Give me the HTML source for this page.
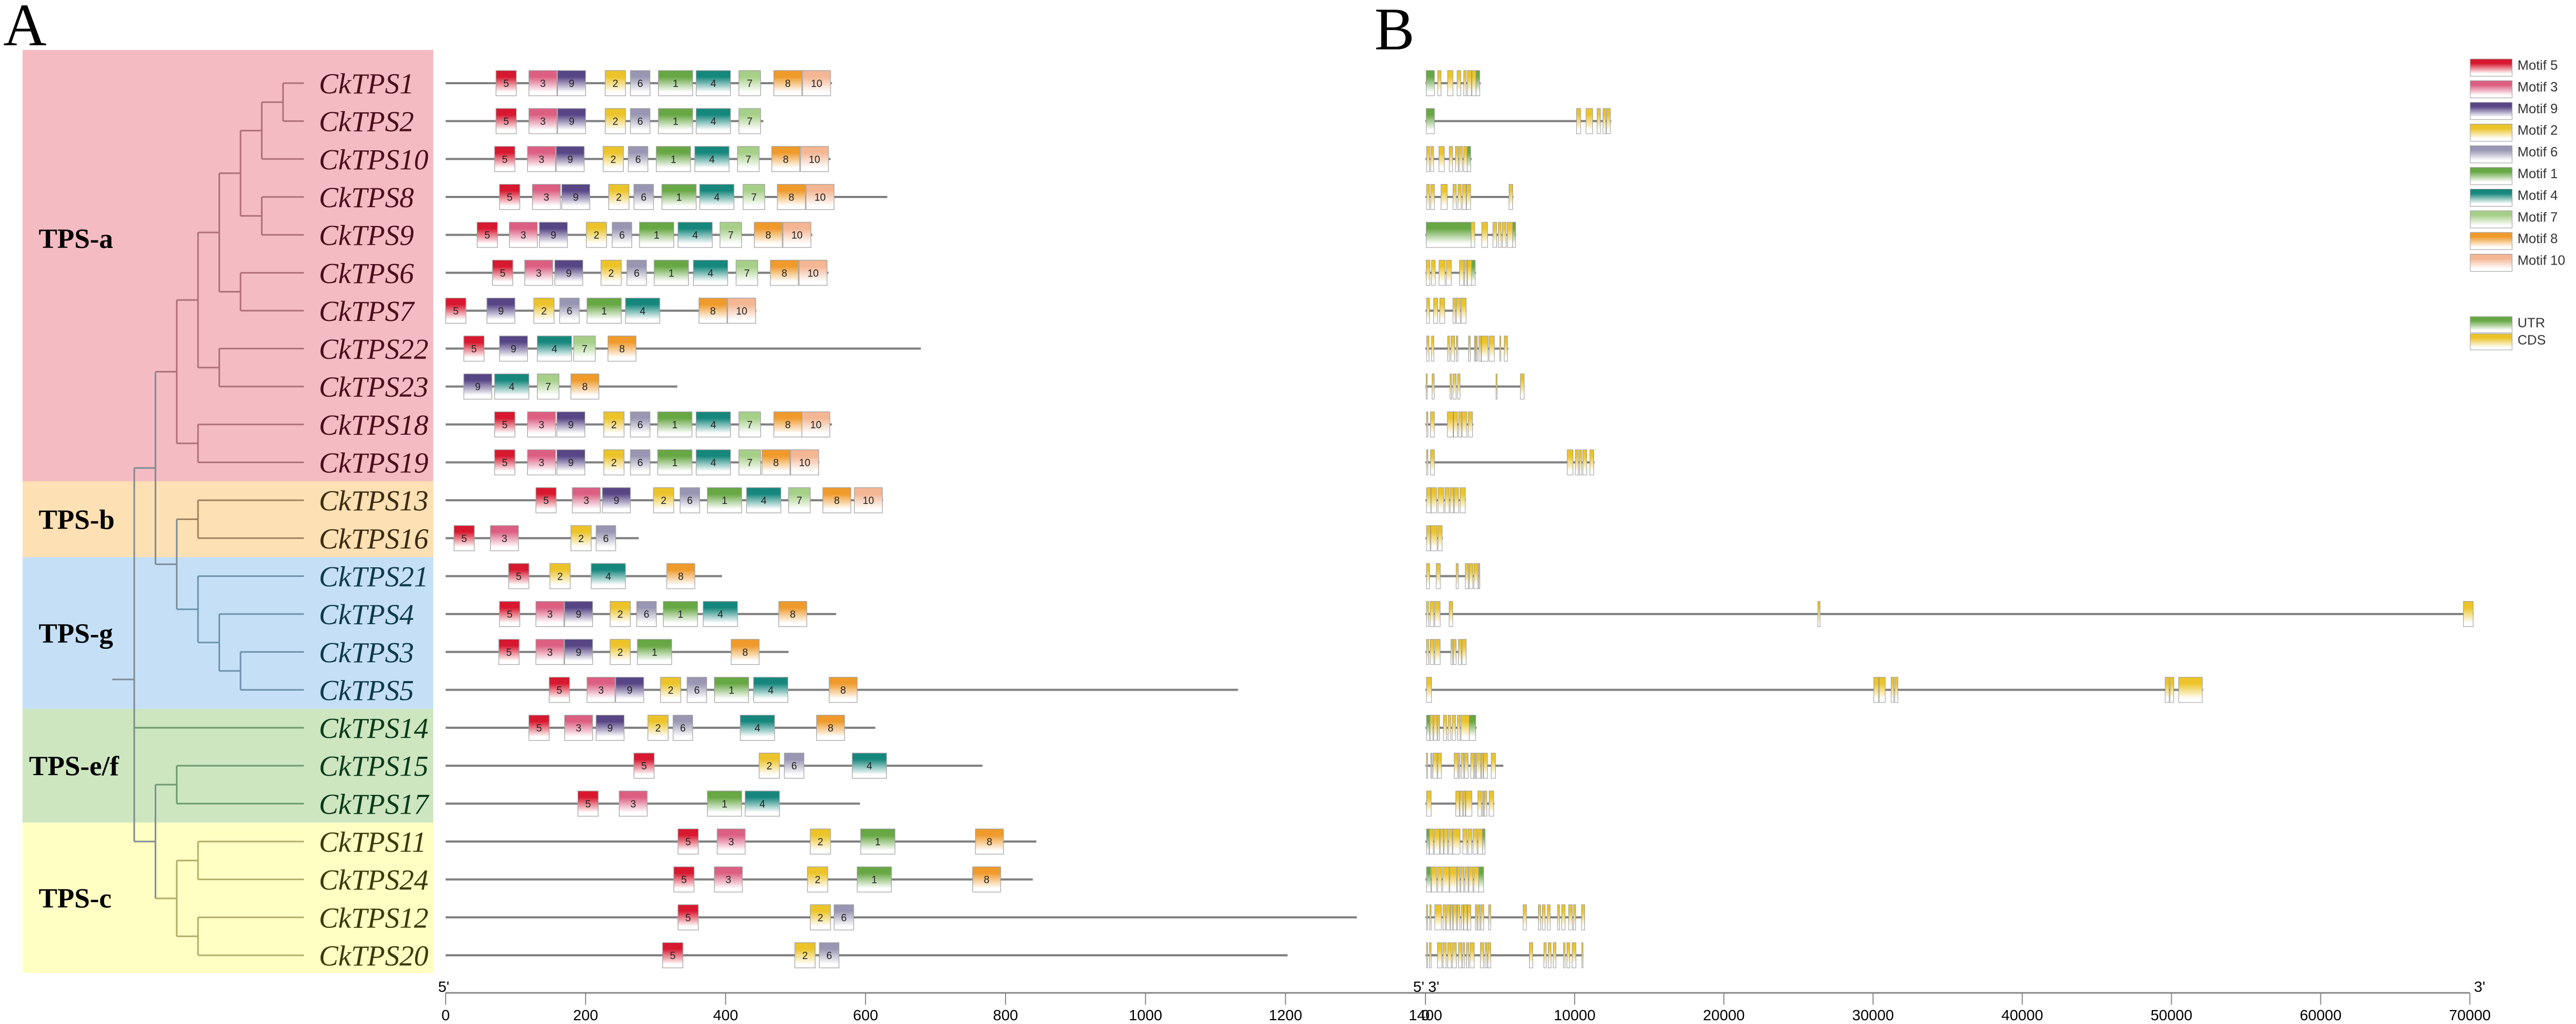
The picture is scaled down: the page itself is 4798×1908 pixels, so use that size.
<!DOCTYPE html>
<html><head><meta charset="utf-8">
<style>
html,body{margin:0;padding:0;background:#fff;}
svg{display:block;}
</style></head>
<body>
<svg id="fig" xmlns="http://www.w3.org/2000/svg" width="4798" height="1908" viewBox="0 0 4798 1908">
<defs id="defs"></defs>
<text x="6" y="84" font-family="Liberation Serif, serif" font-size="112">A</text>
<text x="2560" y="92" font-family="Liberation Serif, serif" font-size="112">B</text>
<g id="bg"></g><g id="tree"></g><g id="labels"></g><g id="motifs"></g><g id="genes"></g><g id="axes"></g><g id="legend"></g>
</svg>
<script>
const genes=["CkTPS1","CkTPS2","CkTPS10","CkTPS8","CkTPS9","CkTPS6","CkTPS7","CkTPS22","CkTPS23","CkTPS18","CkTPS19","CkTPS13","CkTPS16","CkTPS21","CkTPS4","CkTPS3","CkTPS5","CkTPS14","CkTPS15","CkTPS17","CkTPS11","CkTPS24","CkTPS12","CkTPS20"];
const geneClade=["a","a","a","a","a","a","a","a","a","a","a","b","b","g","g","g","g","ef","ef","ef","c","c","c","c"];
const clades=[["a","TPS-a",0,10],["b","TPS-b",11,12],["g","TPS-g",13,16],["ef","TPS-e/f",17,19],["c","TPS-c",20,23]];
const proteinLengths=[552,454,550,631,524,547,444,679,331,552,534,625,276,395,558,490,1132,614,767,592,844,839,1302,1203];
const motifWidths={5:29,3:40,9:40,2:29,6:28,1:49,4:49,7:31,8:40,10:40};
const motifData=[
[[5,72],[3,119],[9,160],[2,228],[6,264],[1,304],[4,358],[7,419],[8,469],[10,510]],
[[5,72],[3,119],[9,160],[2,228],[6,264],[1,304],[4,358],[7,419]],
[[5,70],[3,117],[9,158],[2,225],[6,261],[1,301],[4,356],[7,417],[8,466],[10,507]],
[[5,77],[3,124],[9,166],[2,233],[6,269],[1,309],[4,363],[7,425],[8,474],[10,515]],
[[5,45],[3,91],[9,134],[2,201],[6,238],[1,277],[4,332],[7,392],[8,441],[10,482]],
[[5,67],[3,113],[9,156],[2,222],[6,259],[1,298],[4,354],[7,415],[8,464],[10,505]],
[[5,0],[9,59],[2,126],[6,163],[1,202],[4,257],[8,362],[10,403]],
[[5,26],[9,77],[4,131],[7,183],[8,232]],
[[9,26],[4,70],[7,131],[8,179]],
[[5,70],[3,117],[9,159],[2,226],[6,264],[1,303],[4,358],[7,419],[8,469],[10,509]],
[[5,70],[3,117],[9,159],[2,226],[6,264],[1,303],[4,358],[7,419],[8,452],[10,493]],
[[5,129],[3,181],[9,224],[2,297],[6,335],[1,374],[4,430],[7,490],[8,539],[10,584]],
[[5,12],[3,64],[2,179],[6,215]],
[[5,90],[2,149],[4,208],[8,316]],
[[5,77],[3,129],[9,170],[2,235],[6,273],[1,311],[4,368],[8,476]],
[[5,76],[3,129],[9,170],[2,235],[1,274],[8,408]],
[[5,148],[3,202],[9,243],[2,307],[6,345],[1,384],[4,440],[8,548]],
[[5,119],[3,170],[9,215],[2,289],[6,325],[4,421],[8,530]],
[[5,269],[2,448],[6,484],[4,581]],
[[5,189],[3,248],[1,374],[4,428]],
[[5,332],[3,388],[2,521],[1,593],[8,757]],
[[5,326],[3,384],[2,517],[1,588],[8,753]],
[[5,332],[2,521],[6,555]],
[[5,310],[2,499],[6,534]]
];
const geneLengths=[3700,12450,3100,5900,6080,3380,2760,5557,6641,3212,11332,2706,1167,3657,70250,2755,52122,3429,5221,4619,4018,3922,10695,10587];
const exonData=[
[[50,602,"u"],[823,1044],[1485,1844],[2121,2369],[2562,2728],[2811,3087],[3114,3390],[3390,3639,"u"]],
[[50,602,"u"],[10127,10404],[10762,11204],[11508,11729],[11895,12088],[12143,12391]],
[[77,270],[353,547],[906,1265],[1596,1817],[2010,2203],[2259,2480],[2562,2800],[2800,3031,"u"]],
[[77,270],[353,602],[1044,1458],[1844,2065],[2176,2397],[2480,2728],[2756,3031],[5600,5848]],
[[50,3059,"u"],[3059,3308],[3777,4163],[4522,4771],[4882,5075],[5158,5406],[5489,5850],[5850,6041,"u"]],
[[50,298],[408,657],[906,1320],[1403,1734],[2286,2562],[2617,2783],[2811,3100],[3100,3336,"u"]],
[[77,270],[547,822],[960,1293],[1844,2010],[2065,2341],[2397,2728]],
[[84,241],[409,565],[1490,1612],[1708,1961],[2069,2177],[2887,3007],[3284,3344],[3392,3477],[3585,3729],[3753,4198],[4270,4619],[4980,5040],[5281,5497]],
[[48,96],[445,589],[1648,1744],[1840,2057],[2153,2322],[4728,4800],[6364,6617]],
[[72,168],[337,601],[1468,1853],[1889,2141],[2225,2406],[2454,2767],[2863,3152]],
[[72,168],[337,601],[9504,9889],[10046,10250],[10322,10466],[10550,10815],[11019,11283]],
[[72,361],[385,746],[842,1227],[1311,1588],[1660,1889],[1937,2225],[2322,2670]],
[[72,325],[361,782],[842,1119]],
[[72,277],[722,998],[2057,2201],[2671,2887],[2935,3176],[3248,3525],[3573,3633]],
[[72,217],[313,565],[625,986],[1588,1829],[26300,26450],[69570,70220]],
[[72,217],[313,565],[625,986],[1708,1829],[1877,2057],[2213,2406],[2454,2731]],
[[72,409],[30047,30375],[30408,30816],[31213,31393],[31453,31663],[49578,49849],[49903,50155],[50480,52068]],
[[72,289,"u"],[313,505],[553,782],[830,950],[1203,1419],[1515,1696],[1792,2021],[2141,2322],[2382,2935],[2935,3368,"u"]],
[[72,96],[361,409],[505,782],[830,1071],[1925,2165],[2225,2309],[2406,2574],[2622,2863],[3031,3236],[3284,3368],[3416,3705],[3753,3862],[3898,4150],[4403,4692]],
[[72,385],[2033,2274],[2309,2502],[2550,2671],[2706,3115],[3513,3753],[3826,3898],[3946,4114],[4270,4571]],
[[72,241,"u"],[265,529],[589,950],[986,1203],[1251,1492],[1552,1804],[1829,2322],[2502,2779],[2851,3103],[3188,3464],[3524,3826],[3826,3994,"u"]],
[[72,361,"u"],[409,746],[818,1083],[1155,1588],[1624,2093],[2129,2309],[2370,2574],[2646,2863],[2911,3188],[3248,3573],[3573,3898,"u"]],
[[72,120],[289,385],[625,1071],[1179,1347],[1407,1648],[1672,1829],[1865,2093],[2129,2309],[2406,2550],[2574,2791],[2827,3043],[3344,3452],[3513,3657],[3717,3910],[4235,4379],[6545,6773],[7567,7723],[7832,8024],[8168,8361],[8854,8986],[9131,9360],[9600,9841],[9925,10069],[10466,10671]],
[[72,120],[265,385],[806,1107],[1179,1396],[1492,1732],[1804,2069],[2213,2430],[2502,2634],[2755,2899],[2983,3272],[3681,3898],[3994,4126],[4187,4379],[6966,7194],[7940,8096],[8228,8421],[8565,8746],[9251,9360],[9480,9672],[9829,10082],[10479,10563]]
];
const aaTicks=[0,200,400,600,800,1000,1200,1400];
const bpTicks=[0,10000,20000,30000,40000,50000,60000,70000];
const legendMotifs=[5,3,9,2,6,1,4,7,8,10];
// tree: [depth, colorKey, children...]; leaves = row index
const tree=[1,"deep",
  [2,"deep",
    [3,"a",
      [4,"a",
        [5,"a",[6,"a",[7,"a",[8,"a",0,1],2],[7,"a",3,4]],[6,"a",5,6]],
        [5,"a",7,8]],
      [4,"a",9,10]],
    [3,"deep",[4,"b",11,12],[4,"g",13,[5,"g",14,[6,"g",15,16]]]]],
  17,
  [2,"deep",[3,"ef",18,19],[3,"c",[4,"c",20,21],[4,"c",22,23]]]
];

const NS="http://www.w3.org/2000/svg";
const svg=document.getElementById('fig');
function mk(tag,attrs,parent){const e=document.createElementNS(NS,tag);for(const k in attrs)e.setAttribute(k,attrs[k]);parent.appendChild(e);return e;}
const rowY=i=>155+i*70.65;
const xAA=v=>830+v*1.3036;
const xBP=v=>2655+v*0.02779;
const motifColors={5:"#d7182f",3:"#dc5f82",9:"#574585",2:"#ecc42a",6:"#9896b2",1:"#67a744",4:"#16877d",7:"#a6cf88",8:"#ef9a2b",10:"#f4b693",u:"#67a744",c:"#ecc42a"};
const cladeBg={a:"#f4bcc2",b:"#fde0b3",g:"#c5e0f6",ef:"#cde6c0",c:"#ffffc4"};
const lineCol={a:"#b0707a",b:"#a08462",g:"#6e92ad",ef:"#6e9a70",c:"#b4ae6a",deep:"#7f8c96"};
const textCol={a:"#4a0d1c",b:"#3a2a10",g:"#0e3a4a",ef:"#0a3a1a",c:"#3a3a08"};
const defs=document.getElementById('defs');
for(const k in motifColors){
  const g=mk('linearGradient',{id:'gr'+k,x1:0,y1:0,x2:0,y2:1},defs);
  mk('stop',{offset:'0',"stop-color":motifColors[k]},g);
  mk('stop',{offset:'0.25',"stop-color":motifColors[k]},g);
  mk('stop',{offset:'0.85',"stop-color":"#ffffff"},g);
}
// backgrounds
const bgG=document.getElementById('bg');
clades.forEach((c,ci)=>{
  const top=ci===0?93:(rowY(c[2])+rowY(c[2]-1))/2;
  const bot=ci===clades.length-1?1813:(rowY(c[3])+rowY(c[3]+1))/2;
  const r=mk('rect',{x:42,y:top,width:765,height:bot-top,fill:cladeBg[c[0]]},bgG);
  
  
  const cy=ci===0?462:(top+bot)/2+18;
  const t=mk('text',{x:ci===3?54:72,y:cy,"font-family":"Liberation Serif, serif","font-weight":"bold","font-size":52,fill:"#000"},bgG);
  t.textContent=c[1];
  
  
});
// tree
const treeG=document.getElementById('tree');
const dx=d=>250+(d-1)*39.6;
function drawNode(n){
  if(typeof n==='number') return {y:rowY(n),leaf:true,idx:n};
  const d=n[0],col=lineCol[n[1]];
  const kids=n.slice(2).map(drawNode);
  const x=dx(d);
  kids.forEach(k=>{
    const x2=k.leaf?566:k.x;
    const c=k.leaf?lineCol[geneClade[k.idx]]:k.col;
    const l=mk('line',{x1:x,y1:k.y,x2:x2,y2:k.y,stroke:c,"stroke-width":3},treeG);
    
    
  });
  const y1=kids[0].y,y2=kids[kids.length-1].y;
  const v=mk('line',{x1:x,y1:y1,x2:x,y2:y2,stroke:col,"stroke-width":3},treeG);
  
  
  return {x:x,y:(y1+y2)/2,col:col};
}
const root=drawNode(tree);
const rs=mk('line',{x1:209,y1:1266,x2:root.x,y2:1266,stroke:lineCol.deep,"stroke-width":3},treeG);


// labels
const labG=document.getElementById('labels');
genes.forEach((g,i)=>{
  const t=mk('text',{x:594,y:rowY(i)+19,"font-family":"Liberation Serif, serif","font-style":"italic","font-size":54,fill:textCol[geneClade[i]]},labG);
  t.textContent=g;
  
  
});
// motifs
const motG=document.getElementById('motifs');
genes.forEach((g,i)=>{
  const y=rowY(i);
  const gr=mk('g',{},motG);
  
  
  mk('line',{x1:xAA(0),y1:y,x2:xAA(proteinLengths[i]),y2:y,stroke:"#808080","stroke-width":4},gr);
  motifData[i].forEach(m=>{
    const x=xAA(m[1]),w=motifWidths[m[0]]*1.3036;
    const r=mk('rect',{x:x,y:y-23.5,width:w,height:47,fill:'url(#gr'+m[0]+')',stroke:"#a0a0a0","stroke-width":1.2},gr);
    
    
    const t=mk('text',{x:x+w/2,y:y+7,"text-anchor":"middle","font-family":"Liberation Sans, sans-serif","font-size":19,fill:"#222"},gr);
    t.textContent=m[0];
  });
});
// gene structures
const genG=document.getElementById('genes');
genes.forEach((g,i)=>{
  const y=rowY(i);
  const gr=mk('g',{},genG);
  
  
  mk('line',{x1:xBP(0),y1:y,x2:xBP(geneLengths[i]),y2:y,stroke:"#808080","stroke-width":4},gr);
  exonData[i].forEach(e=>{
    const x=xBP(e[0]),w=Math.max(2,xBP(e[1])-x);
    const r=mk('rect',{x:x,y:y-23.5,width:w,height:47,fill:'url(#gr'+(e[2]||'c')+')',stroke:"#999","stroke-width":1},gr);
    
    
  });
});
// axes
const axG=document.getElementById('axes');
const ay=1850;
function axis(x0,x1,ticks,fx,name){
  const g=mk('g',{},axG);
  
  
  mk('line',{x1:x0,y1:ay,x2:x1,y2:ay,stroke:"#888","stroke-width":3},g);
  ticks.forEach(t=>{
    const x=fx(t);
    mk('line',{x1:x,y1:ay,x2:x,y2:ay+22,stroke:"#888","stroke-width":2},g);
    const tx=mk('text',{x:x,y:1901,"text-anchor":"middle","font-family":"Liberation Sans, sans-serif","font-size":28,fill:"#000"},g);
    tx.textContent=t;
  });
}
axis(xAA(0),xAA(1400),aaTicks,xAA,'x-axis-protein');
axis(xBP(0),xBP(70000),bpTicks,xBP,'x-axis-gene');
[[xAA(0)-14,"5'"],[2632,"5'"],[2660,"3'"],[4608,"3'"]].forEach(p=>{
  const t=mk('text',{x:p[0],y:1848,"font-family":"Liberation Sans, sans-serif","font-size":28,fill:"#000"},axG);
  t.textContent=p[1];
  
  
});
// legend
const legG=document.getElementById('legend');
legendMotifs.forEach((m,i)=>{
  const y=110+i*40.4;
  const g=mk('g',{},legG);
  
  
  mk('rect',{x:4601,y:y,width:78,height:32,fill:'url(#gr'+m+')',stroke:"#999","stroke-width":1},g);
  const t=mk('text',{x:4689,y:y+20,"font-family":"Liberation Sans, sans-serif","font-size":25,fill:"#333"},g);
  t.textContent='Motif '+m;
});
[["u","UTR",590],["c","CDS",622]].forEach(l=>{
  const g=mk('g',{},legG);
  
  
  mk('rect',{x:4601,y:l[2],width:78,height:30,fill:'url(#gr'+l[0]+')',stroke:"#999","stroke-width":1},g);
  const t=mk('text',{x:4689,y:l[2]+20,"font-family":"Liberation Sans, sans-serif","font-size":25,fill:"#333"},g);
  t.textContent=l[1];
});
</script>
</body></html>
